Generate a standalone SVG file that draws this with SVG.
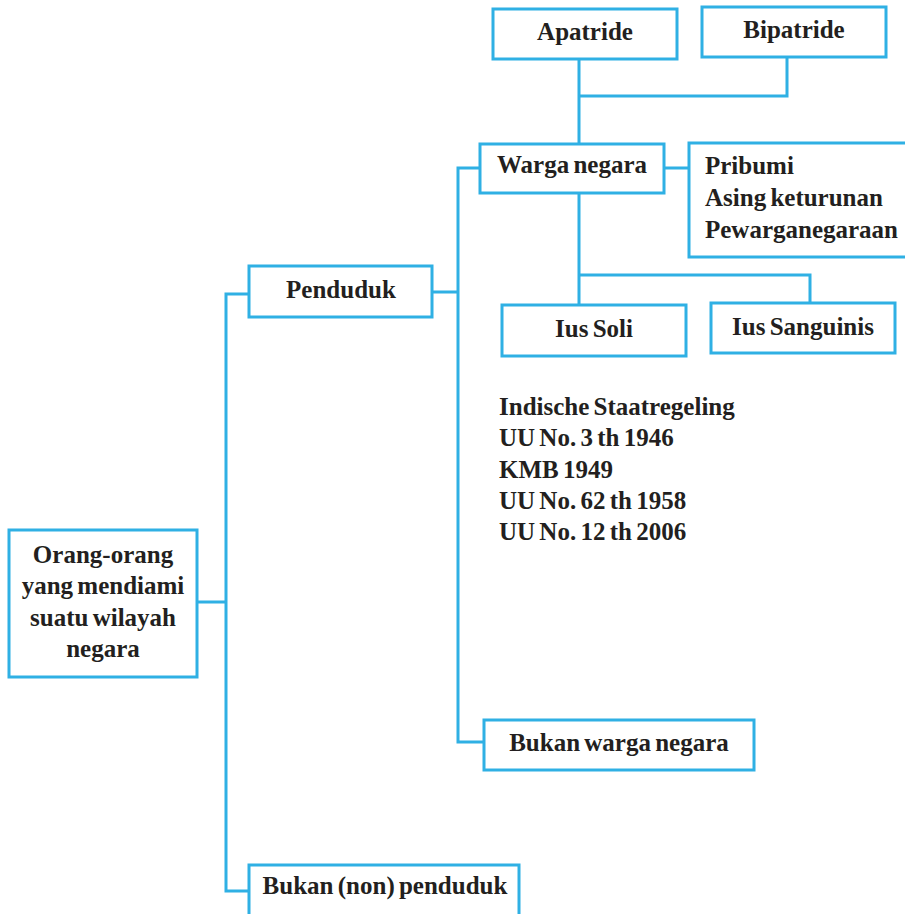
<svg xmlns="http://www.w3.org/2000/svg" width="905" height="914" viewBox="0 0 905 914">
<style>
.box{fill:#ffffff;stroke:#2fb0e4;stroke-width:3}
.ln{fill:none;stroke:#2fb0e4;stroke-width:3}
text{font-family:"Liberation Serif","Times New Roman",serif;font-weight:bold;font-size:25px;fill:#231f20;word-spacing:-2px}
.c{text-anchor:middle}
</style>
<rect width="905" height="914" fill="#ffffff"/>
<g id="connectors">
<path class="ln" d="M579 59V144M787 57V96H579M579 193V305M579 275H810V303M664 168H689M480 168H458V742H484M432 292H458M249 294H226V891H249M197 602H226"/>
</g>
<g id="apatride"><rect class="box" x="493" y="9" width="184" height="50"/><text class="c" x="585" y="40">Apatride</text></g>
<g id="bipatride"><rect class="box" x="702" y="7" width="184" height="50"/><text class="c" x="794" y="38">Bipatride</text></g>
<g id="warga-negara"><rect class="box" x="480" y="144" width="184" height="49"/><text class="c" x="572" y="173">Warga negara</text></g>
<g id="pribumi"><rect class="box" x="689" y="143" width="240" height="114"/>
<text x="705" y="174">Pribumi</text><text x="705" y="206">Asing keturunan</text><text x="705" y="238">Pewarganegaraan</text></g>
<g id="penduduk"><rect class="box" x="249" y="266" width="183" height="51"/><text class="c" x="341" y="298">Penduduk</text></g>
<g id="ius-soli"><rect class="box" x="502" y="305" width="184" height="51"/><text class="c" x="594" y="337">Ius Soli</text></g>
<g id="ius-sanguinis"><rect class="box" x="711" y="303" width="184" height="50"/><text class="c" x="803" y="335">Ius Sanguinis</text></g>
<g id="dasar-hukum">
<text x="499" y="415">Indische Staatregeling</text>
<text x="499" y="446">UU No. 3 th 1946</text>
<text x="499" y="478">KMB 1949</text>
<text x="499" y="509">UU No. 62 th 1958</text>
<text x="499" y="540">UU No. 12 th 2006</text>
</g>
<g id="orang-orang"><rect class="box" x="9" y="530" width="188" height="147"/>
<text class="c" x="103" y="563">Orang-orang</text><text class="c" x="103" y="594">yang mendiami</text><text class="c" x="103" y="626">suatu wilayah</text><text class="c" x="103" y="657">negara</text></g>
<g id="bukan-warga-negara"><rect class="box" x="484" y="720" width="270" height="50"/><text class="c" x="619" y="751">Bukan warga negara</text></g>
<g id="bukan-penduduk"><rect class="box" x="249" y="865" width="270" height="70"/><text class="c" x="385" y="894">Bukan (non) penduduk</text></g>
</svg>
